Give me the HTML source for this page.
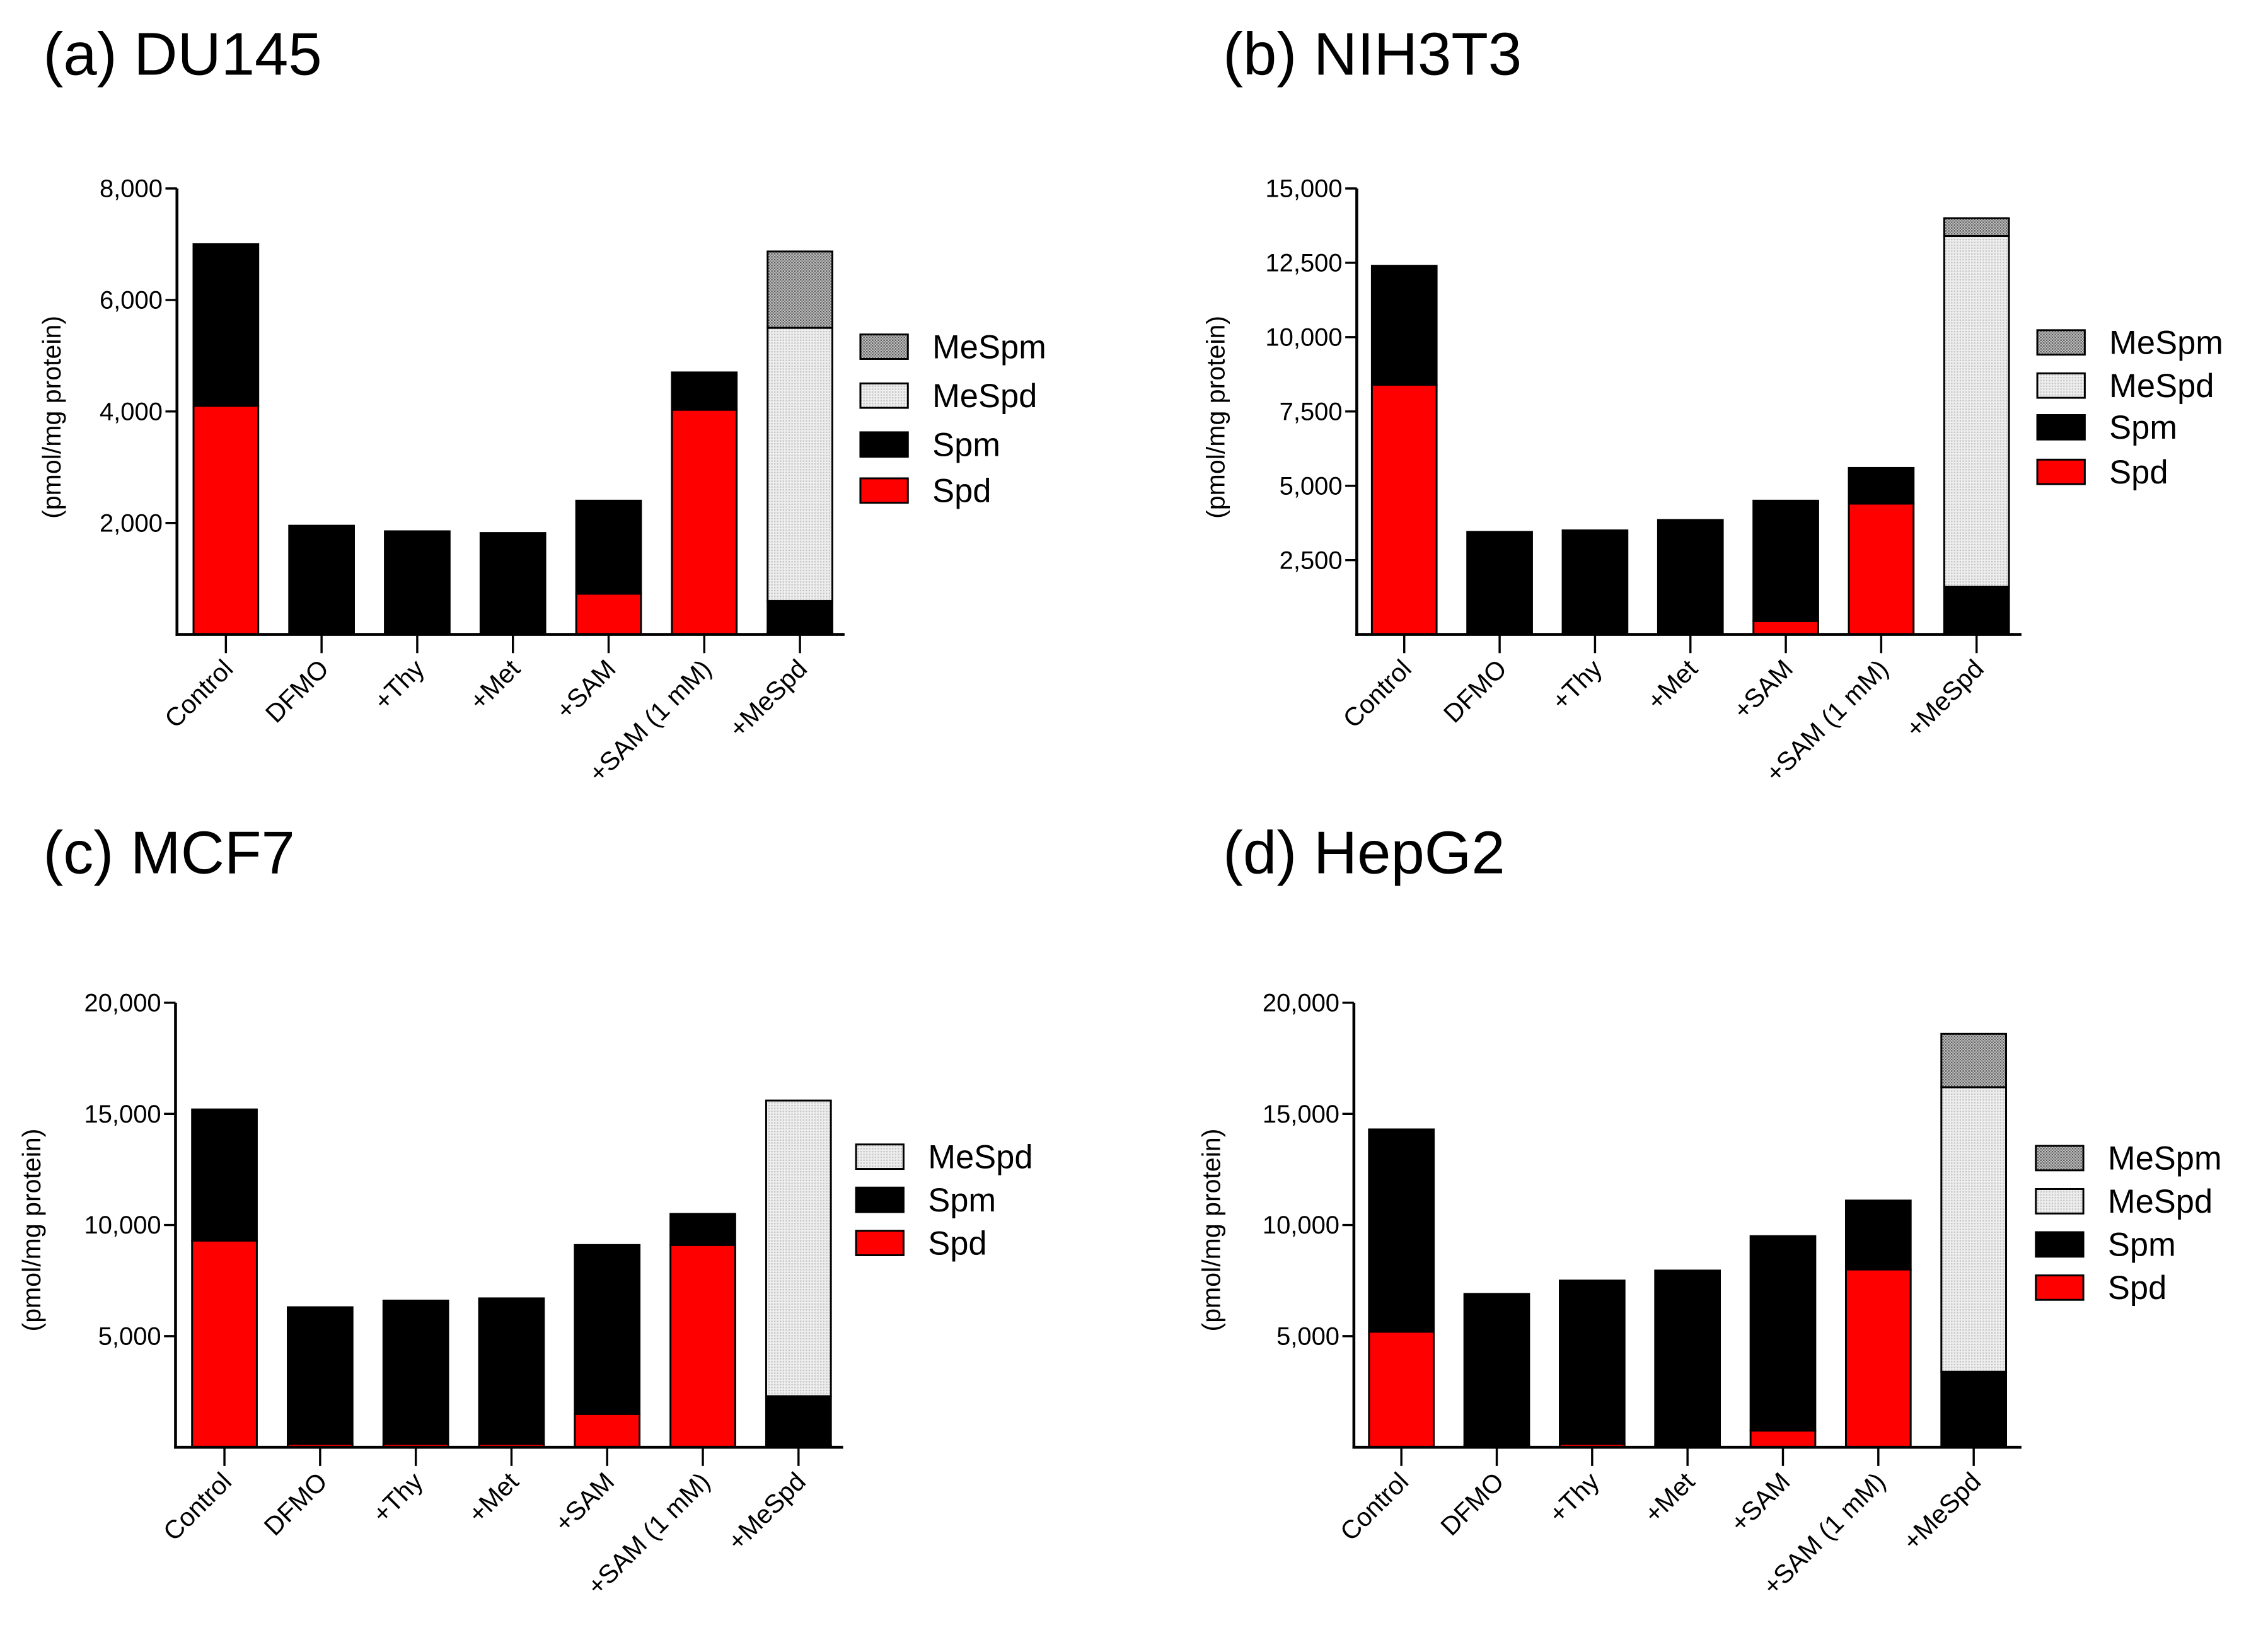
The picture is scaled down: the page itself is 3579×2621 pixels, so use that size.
<!DOCTYPE html>
<html><head><meta charset="utf-8"><style>html,body{margin:0;padding:0;background:#fff}svg{display:block}text{font-family:"Liberation Sans",Arial,sans-serif}</style></head>
<body>
<svg id="fig" width="3579" height="2621" viewBox="0 0 1568 1148.3" preserveAspectRatio="none" xmlns="http://www.w3.org/2000/svg">
<defs>
<pattern id="pMeSpm" width="2" height="2" patternUnits="userSpaceOnUse"><rect width="2" height="2" fill="#c8c8c8"/><rect width="1" height="1" fill="#555"/><rect x="1" y="1" width="1" height="1" fill="#777"/></pattern>
<pattern id="pMeSpd" width="2" height="2" patternUnits="userSpaceOnUse"><rect width="2" height="2" fill="#eeeeee"/><rect width="1" height="1" fill="#c4c4c4"/></pattern>
</defs>
</svg>
<script>
const categories = ["Control","DFMO","+Thy","+Met","+SAM","+SAM (1 mM)","+MeSpd"];
const aSpd   = [4100,0,0,0,730,4030,40];
const aSpm   = [2900,1950,1850,1820,1670,670,560];
const aMeSpd = [0,0,0,0,0,0,4900];
const aMeSpm = [0,0,0,0,0,0,1370];
const bSpd   = [8400,0,0,0,450,4400,80];
const bSpm   = [4000,3450,3500,3850,4050,1200,1520];
const bMeSpd = [0,0,0,0,0,0,11800];
const bMeSpm = [0,0,0,0,0,0,600];
const cSpd   = [9300,150,150,150,1500,9100,100];
const cSpm   = [5900,6150,6450,6550,7600,1400,2200];
const cMeSpd = [0,0,0,0,0,0,13300];
const dSpd   = [5200,100,150,100,750,8000,0];
const dSpm   = [9100,6800,7350,7850,8750,3100,3400];
const dMeSpd = [0,0,0,0,0,0,12800];
const dMeSpm = [0,0,0,0,0,0,2400];
const aTicks = [2000,4000,6000,8000];
const bTicks = [2500,5000,7500,10000,12500,15000];
const cTicks = [5000,10000,15000,20000];
const dTicks = [5000,10000,15000,20000];

const NS="http://www.w3.org/2000/svg";
const svg=document.getElementById('fig');
function mk(tag,attrs,parent,text){const e=document.createElementNS(NS,tag);for(const k in attrs)e.setAttribute(k,attrs[k]);if(text!==undefined)e.textContent=text;(parent||svg).appendChild(e);return e;}
const fills={Spd:"#ff0000",Spm:"#000000",MeSpd:"url(#pMeSpd)",MeSpm:"url(#pMeSpm)"};

function panel(p){
  const g=mk('g',{});
  
  
  const t=mk('text',{x:p.tx,y:p.ty,'font-size':42},g,p.title);
  
  
  const y=v=>p.y0-(v/p.max)*(p.y0-p.y1);
  const x=i=>p.x0+p.first+i*p.step;
  categories.forEach((c,i)=>{
    let base=0;
    p.series.forEach(s=>{
      const v=s.vals[i]; if(v<=0)return;
      const r=mk('rect',{x:x(i)-22.5,y:y(base+v),width:45,height:y(base)-y(base+v),fill:fills[s.name],stroke:'#000','stroke-width':1.3},g);
      
      
      base+=v;
    });
  });
  const ya=mk('line',{x1:p.x0,y1:p.y1,x2:p.x0,y2:p.y0+1,stroke:'#000','stroke-width':2},g);
  
  
  const xa=mk('line',{x1:p.x0-1,y1:p.y0,x2:p.xend,y2:p.y0,stroke:'#000','stroke-width':2},g);
  
  
  p.ticks.forEach(v=>{
    mk('line',{x1:p.x0-8,y1:y(v),x2:p.x0,y2:y(v),stroke:'#000','stroke-width':1.5},g);
    const l=mk('text',{x:p.x0-10,y:y(v)+6,'font-size':17.5,'text-anchor':'end'},g,v.toLocaleString('en-US'));
    
    
  });
  categories.forEach((c,i)=>{
    mk('line',{x1:x(i),y1:p.y0,x2:x(i),y2:p.y0+13,stroke:'#000','stroke-width':1.5},g);
    const l=mk('text',{x:x(i)+6,y:p.y0+25,'font-size':18,'text-anchor':'end',transform:`rotate(-45 ${x(i)+6} ${p.y0+25})`},g,c);
    
    
  });
  const yt=mk('text',{x:p.ytx,y:p.yty,'font-size':18,'text-anchor':'middle',transform:`rotate(-90 ${p.ytx} ${p.yty})`},g,'(pmol/mg protein)');
  
  
  p.legend.forEach((name,k)=>{
    const cy=p.ly[k];
    const lg=mk('g',{},g);
    
    
    mk('rect',{x:p.lx,y:cy-8.5,width:33,height:17,fill:fills[name],stroke:'#000','stroke-width':1.3},lg);
    mk('text',{x:p.lx+50,y:cy+8,'font-size':23},lg,name);
  });
}
panel({id:'a',title:'(a) DU145',tx:30,ty:52,x0:123,y0:441,y1:131,max:8000,xend:587,first:34,step:66.5,ticks:aTicks,
  series:[{name:'Spd',vals:aSpd},{name:'Spm',vals:aSpm},{name:'MeSpd',vals:aMeSpd},{name:'MeSpm',vals:aMeSpm}],
  ytx:42,yty:290,lx:598,ly:[241,275,309,341],legend:['MeSpm','MeSpd','Spm','Spd']});
panel({id:'b',title:'(b) NIH3T3',tx:850,ty:52,x0:943,y0:441,y1:131,max:15000,xend:1405,first:33,step:66.3,ticks:bTicks,
  series:[{name:'Spd',vals:bSpd},{name:'Spm',vals:bSpm},{name:'MeSpd',vals:bMeSpd},{name:'MeSpm',vals:bMeSpm}],
  ytx:851,yty:290,lx:1416,ly:[238,268,297,328],legend:['MeSpm','MeSpd','Spm','Spd']});
panel({id:'c',title:'(c) MCF7',tx:30,ty:607,x0:122,y0:1006,y1:697,max:20000,xend:586,first:34,step:66.5,ticks:cTicks,
  series:[{name:'Spd',vals:cSpd},{name:'Spm',vals:cSpm},{name:'MeSpd',vals:cMeSpd}],
  ytx:28,yty:855,lx:595,ly:[804,834,864],legend:['MeSpd','Spm','Spd']});
panel({id:'d',title:'(d) HepG2',tx:850,ty:607,x0:941,y0:1006,y1:697,max:20000,xend:1405,first:33,step:66.3,ticks:dTicks,
  series:[{name:'Spd',vals:dSpd},{name:'Spm',vals:dSpm},{name:'MeSpd',vals:dMeSpd},{name:'MeSpm',vals:dMeSpm}],
  ytx:848,yty:855,lx:1415,ly:[805,835,865,895],legend:['MeSpm','MeSpd','Spm','Spd']});
</script>
</body></html>
